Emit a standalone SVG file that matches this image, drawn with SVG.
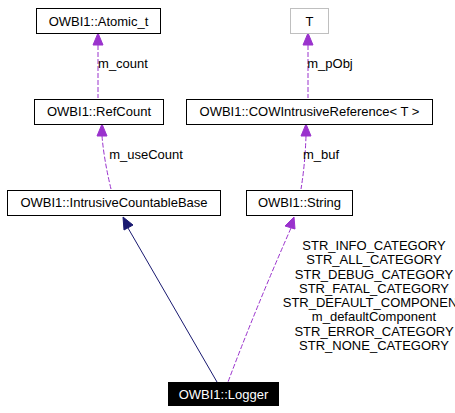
<svg xmlns="http://www.w3.org/2000/svg" width="455" height="413" viewBox="0 0 455 413">
<style>
.box{fill:#fff;stroke:#000;stroke-width:1}
.gray{fill:#fff;stroke:#bfbfbf;stroke-width:1}
.t{font-family:"Liberation Sans",Arial,sans-serif;font-size:13px;text-anchor:middle;fill:#000}
.w{fill:#fff}
.dash{fill:none;stroke:#9a32cd;stroke-width:1;stroke-dasharray:5,2}
.solid{fill:none;stroke:#191970;stroke-width:1}
.ap{fill:#9a32cd;stroke:#9a32cd}
.ab{fill:#191970;stroke:#191970}
</style>
<rect width="455" height="413" fill="#fff"/>
<g id="connectors">
<path class="dash" d="M98,45 L98,98"/>
<path class="ap" d="M98,33 L93,45 L103,45 Z"/>
<text class="t" x="123" y="68">m_count</text>
<path class="dash" d="M102,136 Q104,160 111,189"/>
<path class="ap" d="M102,124 L97,136 L107,136 Z"/>
<text class="t" x="146" y="159">m_useCount</text>
<path class="dash" d="M308,45 L308,98"/>
<path class="ap" d="M308,33 L303,45 L313,45 Z"/>
<text class="t" x="330" y="68">m_pObj</text>
<path class="dash" d="M306,136 Q305,165 301,189"/>
<path class="ap" d="M306,124 L301,136 L311,136 Z"/>
<text class="t" x="321" y="159">m_buf</text>
<path class="solid" d="M128,228 L217,382"/>
<path class="ab" d="M123,217 L124,230 L133,225 Z"/>
<path class="dash" d="M291,228 Q255,310 228,382"/>
<path class="ap" d="M294,217 L285,226 L295,229 Z"/>
<text class="t" x="374" y="250">STR_INFO_CATEGORY</text>
<text class="t" x="374" y="264">STR_ALL_CATEGORY</text>
<text class="t" x="374" y="279">STR_DEBUG_CATEGORY</text>
<text class="t" x="374" y="293">STR_FATAL_CATEGORY</text>
<text class="t" x="374" y="307">STR_DEFAULT_COMPONENT</text>
<text class="t" x="374" y="321">m_defaultComponent</text>
<text class="t" x="374" y="336">STR_ERROR_CATEGORY</text>
<text class="t" x="374" y="350">STR_NONE_CATEGORY</text>
</g>
<g id="atomic"><rect class="box" x="36.5" y="8.5" width="124" height="25"/><text class="t" x="98.5" y="25.5">OWBI1::Atomic_t</text></g>
<g id="T"><rect class="gray" x="290.5" y="8.5" width="38" height="25"/><text class="t" x="309.5" y="25.5">T</text></g>
<g id="refcount"><rect class="box" x="34.5" y="99.5" width="129" height="25"/><text class="t" x="99" y="116">OWBI1::RefCount</text></g>
<g id="cow"><rect class="box" x="186.5" y="99.5" width="246" height="25"/><text class="t" x="309.5" y="116">OWBI1::COWIntrusiveReference&lt; T &gt;</text></g>
<g id="icb"><rect class="box" x="7.5" y="190.5" width="213" height="25"/><text class="t" x="114" y="207">OWBI1::IntrusiveCountableBase</text></g>
<g id="string"><rect class="box" x="246.5" y="190.5" width="106" height="25"/><text class="t" x="299.5" y="207">OWBI1::String</text></g>
<g id="logger"><rect x="168" y="382" width="111" height="24" fill="#000"/><text class="t w" x="223.5" y="398.5">OWBI1::Logger</text></g>
</svg>
